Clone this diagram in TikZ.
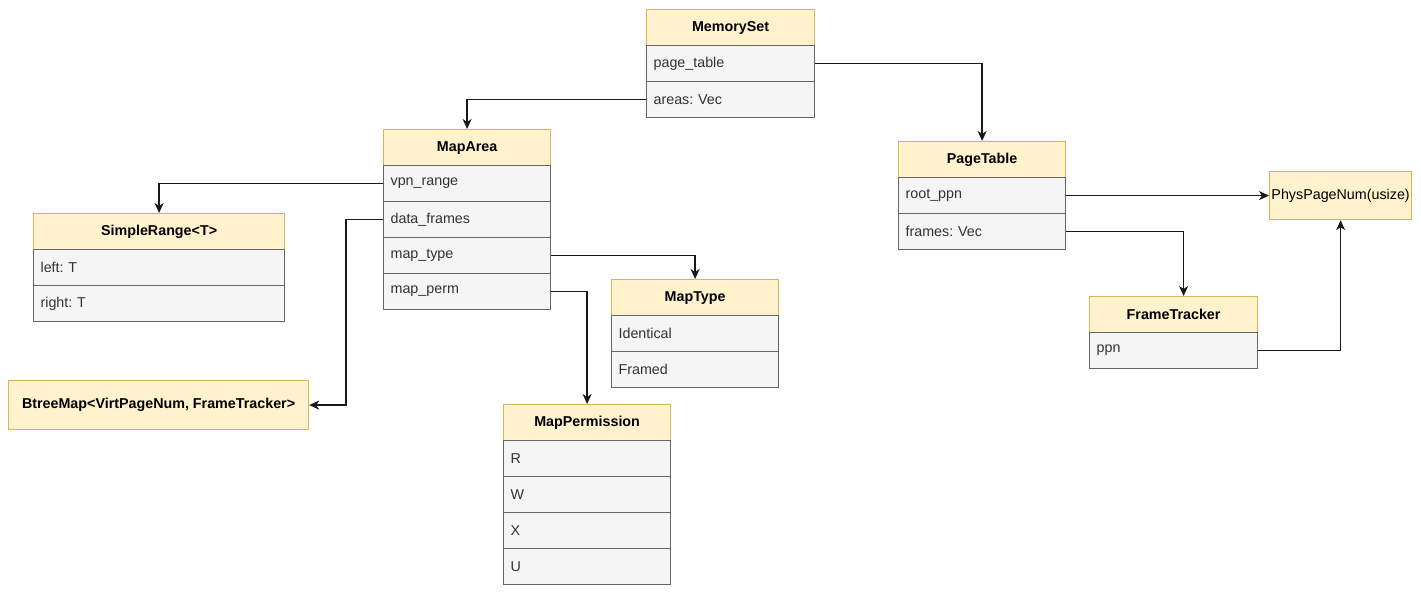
\documentclass[tikz,border=0pt]{standalone}
\usepackage{fontspec}
\setmainfont{Liberation Sans}
\usetikzlibrary{arrows.meta}
\frenchspacing
\definecolor{hdrfill}{HTML}{FFF2CC}
\definecolor{hdrline}{HTML}{D6B656}
\definecolor{rowfill}{HTML}{F5F5F5}
\definecolor{rowline}{HTML}{666666}
\definecolor{rowtext}{HTML}{333333}
\newcommand{\diafont}{\fontsize{14.3}{17}\selectfont}
\tikzset{
  hdr/.style={draw=hdrline, fill=hdrfill, line width=1.2pt, minimum height=36pt,
    minimum width=#1pt, inner sep=0pt, anchor=north west, font=\diafont\bfseries},
  rowbox/.style={draw=rowline, fill=rowfill, line width=1.2pt, text=rowtext,
    minimum height=36pt, inner xsep=7pt, inner ysep=0pt, text width=#1pt,
    align=left, anchor=north west, font=\diafont},
  conn/.style={draw=black!90, line width=1.3pt,
    -{Stealth[length=10pt,width=9pt,inset=3pt]}},
}
\begin{document}
\begin{tikzpicture}[x=1pt,y=-1pt]
\useasboundingbox (0,0) rectangle (1421,596);
% MemorySet
\node[hdr=168] (ms) at (646,9) {MemorySet};
\node[rowbox=154] (ms1) at (646,45) {page\_table};
\node[rowbox=154] (ms2) at (646,81) {areas: Vec};
% MapArea
\node[hdr=167] (ma) at (383,129) {MapArea};
\node[rowbox=153] (ma1) at (383,165) {vpn\_range};
\node[rowbox=153] (ma2) at (383,201) {data\_frames};
\node[rowbox=153] (ma3) at (383,237) {map\_type};
\node[rowbox=153] (ma4) at (383,273) {map\_perm};
% SimpleRange
\node[hdr=251] (sr) at (33,213) {SimpleRange<T>};
\node[rowbox=237] (sr1) at (33,249) {left: T};
\node[rowbox=237] (sr2) at (33,285) {right: T};
% BtreeMap
\node[hdr=300, minimum height=49pt] (bt) at (8,380) {BtreeMap<VirtPageNum, FrameTracker>};
% MapType
\node[hdr=167] (mt) at (611,279) {MapType};
\node[rowbox=153] (mt1) at (611,315) {Identical};
\node[rowbox=153] (mt2) at (611,351) {Framed};
% MapPermission
\node[hdr=167] (mp) at (503,404) {MapPermission};
\node[rowbox=153] (mp1) at (503,440) {R};
\node[rowbox=153] (mp2) at (503,476) {W};
\node[rowbox=153] (mp3) at (503,512) {X};
\node[rowbox=153] (mp4) at (503,548) {U};
% PageTable
\node[hdr=167] (pt) at (898,141) {PageTable};
\node[rowbox=153] (pt1) at (898,177) {root\_ppn};
\node[rowbox=153] (pt2) at (898,213) {frames: Vec};
% PhysPageNum
\node[hdr=142, minimum height=48pt, font=\diafont\mdseries] (pp) at (1269,171) {PhysPageNum(usize)};
% FrameTracker
\node[hdr=168] (ft) at (1089,296) {FrameTracker};
\node[rowbox=154] (ft1) at (1089,332) {ppn};
% connectors
\draw[conn] (ms2.west) -| (ma.north);
\draw[conn] (ms1.east) -| (pt.north);
\draw[conn] (ma1.west) -| (sr.north);
\draw[conn] (ma2.west) -- ++(-37,0) |- (bt.east);
\draw[conn] (ma3.east) -| (mt.north);
\draw[conn] (ma4.east) -| (mp.north);
\draw[conn] (pt1.east) -- (pp.west);
\draw[conn] (pt2.east) -| ([xshift=10pt]ft.north);
\draw[conn] (ft1.east) -| (pp.south);
\end{tikzpicture}
\end{document}
